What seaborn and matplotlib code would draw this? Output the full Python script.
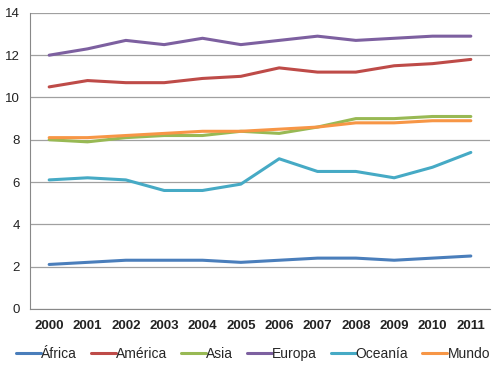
import numpy as np
import pandas as pd
import matplotlib
matplotlib.use('Agg')
import matplotlib.pyplot as plt
import seaborn as sns

# Datos
years = ['2000', '2001', '2002', '2003', '2004', '2005', '2006', '2007', '2008', '2009', '2010', '2011']
africa = [2.1, 2.2, 2.3, 2.3, 2.3, 2.2, 2.3, 2.4, 2.4, 2.3, 2.4, 2.5]
america = [10.5, 10.8, 10.7, 10.7, 10.9, 11.0, 11.4, 11.2, 11.2, 11.5, 11.6, 11.8]
asia = [8.0, 7.9, 8.1, 8.2, 8.2, 8.4, 8.3, 8.6, 9.0, 9.0, 9.1, 9.1]
europa = [12.0, 12.3, 12.7, 12.5, 12.8, 12.5, 12.7, 12.9, 12.7, 12.8, 12.9, 12.9]
oceania = [6.1, 6.2, 6.1, 5.6, 5.6, 5.9, 7.1, 6.5, 6.5, 6.2, 6.7, 7.4]
mundo = [8.1, 8.1, 8.2, 8.3, 8.4, 8.4, 8.5, 8.6, 8.8, 8.8, 8.9, 8.9]

series = ['África', 'América', 'Asia', 'Europa', 'Oceanía', 'Mundo']
colores = ['#4A7EBB', '#BE4B48', '#98B954', '#7D60A0', '#46AAC5', '#F79646']

df = pd.DataFrame({'África': africa, 'América': america, 'Asia': asia,
                   'Europa': europa, 'Oceanía': oceania, 'Mundo': mundo})
df['idx'] = range(len(years))
df_long = df.melt(id_vars='idx', var_name='Región', value_name='valor')

sns.set_style('white')
plt.rcParams['font.family'] = ['Liberation Sans', 'DejaVu Sans']

fig = plt.figure(figsize=(5, 3.69), dpi=100)
ax = fig.add_axes([0.06, 0.163, 0.92, 0.802])

sns.lineplot(data=df_long, x='idx', y='valor', hue='Región', hue_order=series,
             palette=colores, linewidth=2.2, ax=ax)

ax.set_xlim(-0.5, 11.5)
ax.set_ylim(0, 14)
ax.set_yticks(range(0, 15, 2))
ax.yaxis.grid(True, color='#A0A0A0', linewidth=0.9)
ax.set_axisbelow(True)

ax.set_xticks(np.arange(len(years)))
ax.set_xticklabels(years, fontweight='bold', fontsize=9.5, color='#222222')
ax.set_xticks(np.arange(-0.5, 12, 1), minor=True)
ax.tick_params(axis='x', which='major', length=0, pad=8)
ax.tick_params(axis='x', which='minor', length=4, color='#888888', direction='out')
ax.tick_params(axis='y', length=4, color='#888888', direction='out', labelsize=9.5,
               labelcolor='#222222')

for s in ['top', 'right']:
    ax.spines[s].set_visible(False)
ax.spines['left'].set_color('#888888')
ax.spines['bottom'].set_color('#888888')

ax.set_xlabel('')
ax.set_ylabel('')

ax.legend(loc='upper center', bbox_to_anchor=(0.485, -0.085), ncol=6, frameon=False,
          fontsize=10, handlelength=1.8, handletextpad=0.0, columnspacing=1.0)

fig.savefig('out.png', dpi=100)
